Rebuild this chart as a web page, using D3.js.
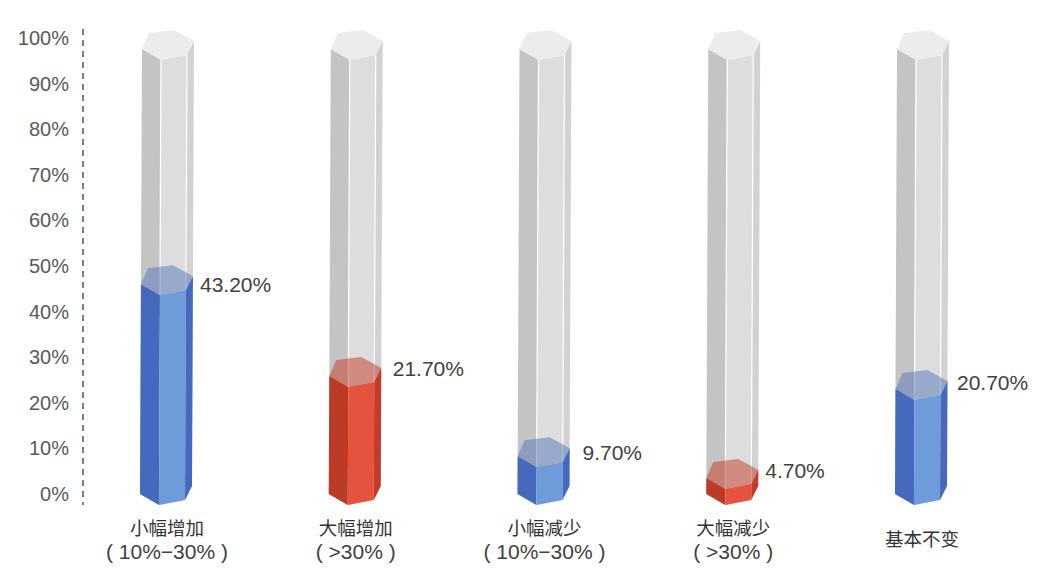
<!DOCTYPE html>
<html>
<head>
<meta charset="utf-8">
<script src="https://cdn.jsdelivr.net/npm/d3@7"></script>
<style>
  html, body { margin: 0; padding: 0; background: #fff; }
  text { font-family: "Liberation Sans", "Noto Sans CJK SC", sans-serif; }
</style>
</head>
<body>
<svg id="chart" width="1057" height="583"></svg>
<script>
// Data
const categories = ["小幅增加", "大幅增加", "小幅减少", "大幅减少", "基本不变"];
const subLabels = ["( 10%−30% )", "( >30% )", "( 10%−30% )", "(  >30% )", ""];
const valueLabels = ["43.20%", "21.70%", "9.70%", "4.70%", "20.70%"];
// height of the coloured fill as it stands against the axis (not the same as the printed label)
const fillLevels = [46, 25.9, 8.3, 3.5, 23];
const fillType = ["blue", "red", "blue", "red", "blue"];
const tickValues = [0, 10, 20, 30, 40, 50, 60, 70, 80, 90, 100];
const tubeLevel = 97.6;

const palette = {
  blue: { left: "#4569bc", front: "#6f9bdb", right: "#4569bc", top: "#5375b9" },
  red: { left: "#bb3b26", front: "#e5533f", right: "#c23c28", top: "#c33723" }
};

// Hexagon outline relative to its left corner
const hex = [[0, 0], [19, 11], [45, 6], [52, -8], [32, -19], [7, -16]];

const svg = d3.select("#chart");

const y = d3.scaleLinear().domain([0, 100]).range([494, 38]);
const x = d3.scalePoint().domain(categories).range([140, 895]);
const lean = d3.scaleLinear().domain([0, tubeLevel]).range([0, 2]);

// corners of the hexagon at a given level
const ring = (cat, level) => hex.map(([dx, dy]) => [x(cat) + lean(level) + dx, y(level) + dy]);
const poly = (pts) => pts.map((p) => p.join(",")).join(" ");

// one side of the prism between two levels, a and b are corner indexes
const side = (cat, lo, hi, a, b) => {
  const r0 = ring(cat, lo);
  const r1 = ring(cat, hi);
  return poly([r0[a], r0[b], r1[b], r1[a]]);
};

// Axis
const axis = d3.axisLeft(y)
  .tickValues(tickValues)
  .tickSize(0)
  .tickPadding(14)
  .tickFormat((d) => d + "%");

const axisG = svg.append("g").attr("transform", "translate(83,0)").call(axis);
axisG.select(".domain").remove();
axisG.selectAll("text")
  .attr("font-size", "20px")
  .attr("fill", "#595959")
  .style("font-family", '"Liberation Sans", sans-serif');

svg.append("line")
  .attr("x1", 83).attr("x2", 83)
  .attr("y1", 29).attr("y2", 505)
  .attr("stroke", "#7a7a90")
  .attr("stroke-width", 2)
  .attr("stroke-dasharray", "6 5");

// Prisms
const labelNudge = [[60, 0], [64, -7], [65, -4], [59, -7], [62, -6]];

categories.forEach((cat, i) => {
  const g = svg.append("g");
  const col = palette[fillType[i]];
  const level = fillLevels[i];

  // glass tube
  g.append("polygon").attr("points", side(cat, 0, tubeLevel, 0, 1)).attr("fill", "#c4c4c4");
  g.append("polygon").attr("points", side(cat, 0, tubeLevel, 1, 2)).attr("fill", "#dddddd");
  g.append("polygon").attr("points", side(cat, 0, tubeLevel, 2, 3)).attr("fill", "#d2d2d2");

  // white edges between the faces
  [1, 2].forEach((c) => {
    const a = ring(cat, 0)[c];
    const b = ring(cat, tubeLevel)[c];
    g.append("line")
      .attr("x1", a[0]).attr("y1", a[1])
      .attr("x2", b[0]).attr("y2", b[1])
      .attr("stroke", "#fff")
      .attr("stroke-width", 1.2);
  });

  g.append("polygon").attr("points", poly(ring(cat, tubeLevel))).attr("fill", "#ececec");

  // coloured fill
  g.append("polygon").attr("points", side(cat, 0, level, 0, 1)).attr("fill", col.left);
  g.append("polygon").attr("points", side(cat, 0, level, 1, 2)).attr("fill", col.front);
  g.append("polygon").attr("points", side(cat, 0, level, 2, 3)).attr("fill", col.right);
  g.append("polygon").attr("points", poly(ring(cat, level)))
    .attr("fill", col.top)
    .attr("fill-opacity", 0.5);

  // value label
  svg.append("text")
    .attr("x", x(cat) + labelNudge[i][0])
    .attr("y", y(level) + labelNudge[i][1])
    .attr("dy", "0.35em")
    .attr("font-size", "21px")
    .attr("fill", "#404040")
    .text(valueLabels[i]);

  // category label
  const cx = x(cat) + 27;
  const two = subLabels[i] !== "";
  svg.append("text")
    .attr("x", cx)
    .attr("y", two ? 529 : 540)
    .attr("dy", "0.35em")
    .attr("text-anchor", "middle")
    .attr("font-size", "18.5px")
    .attr("fill", "#333")
    .text(cat);
  if (two) {
    svg.append("text")
      .attr("x", cx)
      .attr("y", 552)
      .attr("dy", "0.35em")
      .attr("text-anchor", "middle")
      .attr("font-size", "21px")
      .attr("fill", "#404040")
      .text(subLabels[i]);
  }
});
</script>
</body>
</html>
